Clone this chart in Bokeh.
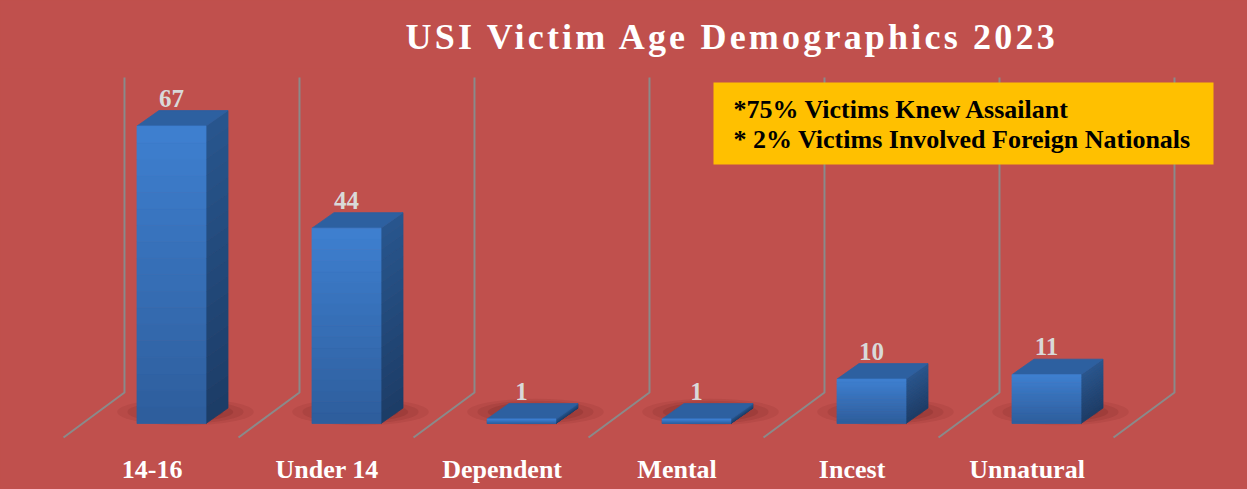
from bokeh.plotting import figure
from bokeh.models import Range1d
from bokeh.layouts import column
from bokeh.embed import file_html
from bokeh.resources import INLINE
from bokeh.core.properties import value

# ---------------- data ----------------
categories = ["14-16", "Under 14", "Dependent", "Mental", "Incest", "Unnatural"]
counts = [67, 44, 1, 1, 10, 11]
title_text = "USI Victim Age Demographics 2023"
notes = ["*75% Victims Knew Assailant", "* 2%  Victims Involved Foreign Nationals"]

# ---------------- style / layout constants ----------------
BG = "#C0504D"
FONT = "Liberation Serif"
W = 1247
H_TITLE = 68
H_MAIN = 421

PX_X = 175.0     # pixels per category
PX_V = 4.44      # pixels per count unit
X0_PX = 171.0    # page x of first category centre
BASE_PX = 423.0  # page y of the floor (value 0)


def sx(px):
    return (px - X0_PX) / PX_X


def sy(py):
    return (BASE_PX - py) / PX_V


HW = 34.5 / PX_X          # half bar width
DX = 22.0 / PX_X          # 3-D depth offset (x)
DY = 15.5 / PX_V          # 3-D depth offset (y)

FRONT_TOP = (62, 128, 208)
FRONT_BOT = (46, 93, 156)
SIDE_TOP = (40, 86, 142)
SIDE_BOT = (28, 60, 102)
TOP_COL = "#2d60a0"


def lerp(c1, c2, t):
    return "#%02x%02x%02x" % tuple(int(round(a + (b - a) * t)) for a, b in zip(c1, c2))


# ---------------- title figure ----------------
pt = figure(width=W, height=H_TITLE, x_range=Range1d(0, W), y_range=Range1d(H_TITLE, 0),
            output_backend="svg", toolbar_location=None, min_border=0,
            x_axis_type=None, y_axis_type=None,
            background_fill_color=BG, border_fill_color=BG, outline_line_color=None,
            styles={"letter-spacing": "3.2px"})
pt.grid.visible = False
pt.text(x=[405], y=[36], text=[title_text], text_font=value(FONT), text_font_style="bold",
        text_font_size="36px", text_color="#FFFFFF", text_align="left",
        text_baseline="alphabetic")

# ---------------- main figure ----------------
p = figure(width=W, height=H_MAIN, x_range=Range1d(sx(0), sx(W)),
           y_range=Range1d(sy(H_TITLE + H_MAIN), sy(H_TITLE)),
           output_backend="svg", toolbar_location=None, min_border=0,
           x_axis_type=None, y_axis_type=None,
           background_fill_color=BG, border_fill_color=BG, outline_line_color=None)
p.grid.visible = False

n = len(categories)
# back-wall / floor divider lines
gx, gy = [], []
for k in range(n + 1):
    xb = k - 0.5 + 0.2314
    xf = k - 0.5 - 0.117
    gx.append([xb, xb, xf])
    gy.append([sy(77), sy(392), sy(437)])
p.multi_line(xs=gx, ys=gy, line_color="#8a8a8a", line_width=2)

# soft floor shadows
for scale, alpha in [(1.0, 0.08), (0.85, 0.10), (0.7, 0.13), (0.55, 0.16)]:
    p.ellipse(x=[i + 0.08 for i in range(n)], y=[2.6] * n,
              width=[0.78 * scale] * n, height=[6.0 * scale] * n,
              fill_color="#4a1010", fill_alpha=alpha, line_color=None)

# bars (3-D boxes with gradient faces)
NS = 18
fl, fr, fb, ft, fc = [], [], [], [], []
sxs, sys_, sc = [], [], []
txs, tys = [], []
for i, v in enumerate(counts):
    for s in range(NS):
        b = v * s / NS
        t = v * (s + 1) / NS
        frac = 1 - (s + 0.5) / NS
        fl.append(i - HW); fr.append(i + HW); fb.append(b); ft.append(t)
        fc.append(lerp(FRONT_TOP, FRONT_BOT, frac))
        sxs.append([i + HW, i + HW + DX, i + HW + DX, i + HW])
        sys_.append([b, b + DY, t + DY, t])
        sc.append(lerp(SIDE_TOP, SIDE_BOT, frac))
    txs.append([i - HW, i - HW + DX, i + HW + DX, i + HW])
    tys.append([v, v + DY, v + DY, v])

p.patches(xs=sxs, ys=sys_, fill_color=sc, line_color=sc, line_width=0.8)
p.patches(xs=txs, ys=tys, fill_color=TOP_COL, line_color=TOP_COL, line_width=0.8)
p.quad(left=fl, right=fr, bottom=fb, top=ft, fill_color=fc, line_color=fc, line_width=0.8)

# value labels
LABEL_GAP = 28.0 / PX_V
p.text(x=list(range(n)), y=[v + LABEL_GAP for v in counts], text=[str(v) for v in counts],
       text_font=value(FONT), text_font_style="bold", text_font_size="25px",
       text_color="#D9D9D9", text_align="center", text_baseline="alphabetic")

# category labels
p.text(x=[i - 0.111 for i in range(n)], y=[sy(468.5)] * n, text=categories,
       text_font=value(FONT), text_font_style="bold", text_font_size="26px",
       text_color="#FFFFFF", text_align="center", text_baseline="alphabetic")

# note box
p.quad(left=[sx(713)], right=[sx(1213)], top=[sy(82)], bottom=[sy(164)],
       fill_color="#FFC000", line_color=None)
p.text(x=[sx(733)] * 2, y=[sy(108.7), sy(138.7)], text=notes,
       text_font=value(FONT), text_font_style="bold", text_font_size="26px",
       text_color="#000000", text_align="left", text_baseline="alphabetic")

layout = column(pt, p, spacing=0)
html = file_html(layout, INLINE)
html = html.replace("</head>", "<style>html,body{background:%s;}</style></head>" % BG, 1)
open("out.html", "w").write(html)
